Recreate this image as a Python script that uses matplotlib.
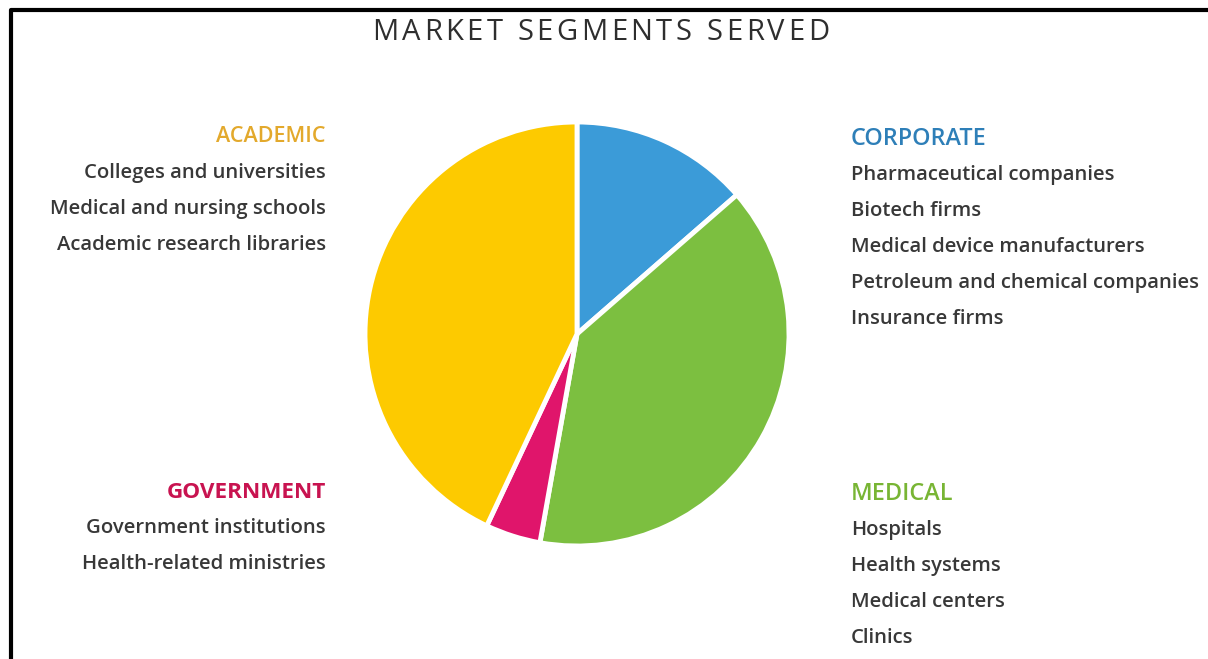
import matplotlib
matplotlib.use("Agg")
import matplotlib.pyplot as plt

# ---- data ----
segments = ["CORPORATE", "MEDICAL", "GOVERNMENT", "ACADEMIC"]
shares = [13.6, 39.2, 4.2, 43.0]
colors = ["#3b9bd8", "#7cbf40", "#e0156b", "#fdca00"]
header_colors = ["#2e7fb8", "#78b534", "#c81350", "#e3a92c"]
corporate_items = ["Pharmaceutical companies", "Biotech firms", "Medical device manufacturers",
                   "Petroleum and chemical companies", "Insurance firms"]
medical_items = ["Hospitals", "Health systems", "Medical centers", "Clinics"]
government_items = ["Government institutions", "Health-related ministries"]
academic_items = ["Colleges and universities", "Medical and nursing schools", "Academic research libraries"]
title = "MARKET SEGMENTS SERVED"

W, H = 1208, 659
fig = plt.figure(figsize=(W / 100, H / 100), dpi=100)
ax = fig.add_axes([0, 0, 1, 1])

def Y(py):
    return H - py

ax.pie(shares, colors=colors, startangle=90, counterclock=False,
       center=(577, Y(334)), radius=212,
       wedgeprops=dict(edgecolor="white", linewidth=3.5), frame=True)
ax.set_xlim(0, W)
ax.set_ylim(0, H)
ax.set_aspect("auto")
ax.set_xticks([]); ax.set_yticks([])
for s in ax.spines.values():
    s.set_visible(False)

# border (left and top)
ax.plot([10.5, 10.5, W], [0, Y(10), Y(10)], color="black", lw=3, solid_capstyle="butt")

font = "Open Sans"
body = dict(fontsize=14.6, color="#383838", family=font, va="center", fontweight="semibold")

# letter-spaced title
renderer = fig.canvas.get_renderer()
tkw = dict(fontsize=21, color="#2e2e2e", family=font, va="center", ha="left")
chars = []
widths = []
for ch in title:
    t = ax.text(0, Y(32), ch if ch != " " else "\u00a0", **tkw)
    bb = t.get_window_extent(renderer=renderer)
    chars.append(t)
    widths.append(bb.width)
tfull = ax.text(0, 0, title, **tkw)
full_w = tfull.get_window_extent(renderer=renderer).width
tfull.remove()
target_left, target_right = 372, 829
gap = (target_right - target_left - full_w) / (len(title) - 1)
scale = full_w / sum(widths)
x = target_left
for t, w in zip(chars, widths):
    t.set_x(x)
    x += w * scale + gap

def block(x, y0, header, hc, items, ha, hsize, hweight):
    ax.text(x, Y(y0), header, color=hc, ha=ha, family=font, va="center",
            fontsize=hsize, fontweight=hweight)
    for i, it in enumerate(items):
        ax.text(x, Y(y0 + 36 * (i + 1)), it, ha=ha, **body)

block(326, 137, segments[3], header_colors[3], academic_items, "right", 15.5, "semibold")
block(326, 492, segments[2], header_colors[2], government_items, "right", 16.2, "bold")
block(851, 139, segments[0], header_colors[0], corporate_items, "left", 16.8, "semibold")
block(851, 494, segments[1], header_colors[1], medical_items, "left", 16.8, "semibold")

fig.savefig("out.png", dpi=100, facecolor="white")
